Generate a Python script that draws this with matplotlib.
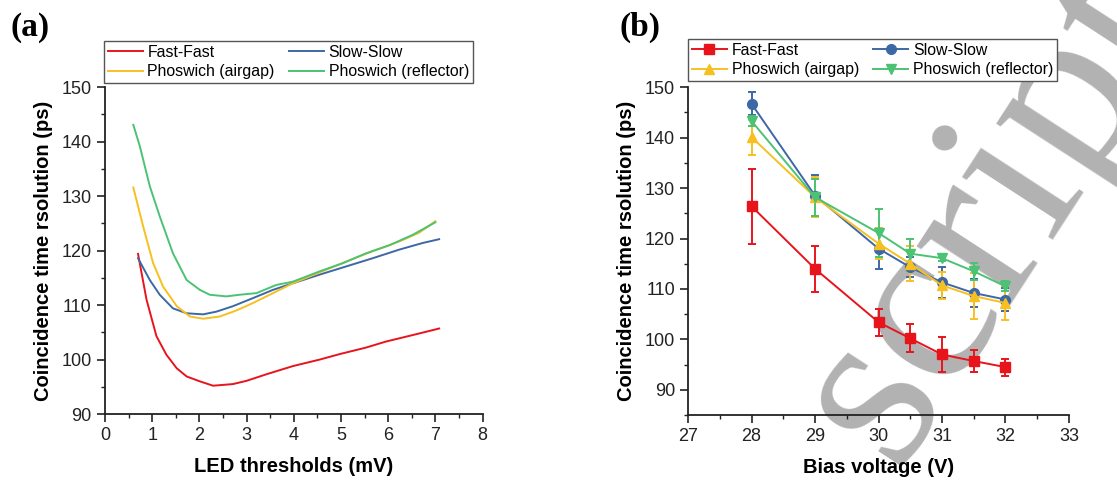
import matplotlib.pyplot as plt
from matplotlib.ticker import MultipleLocator
from matplotlib.lines import Line2D

plt.rcParams['font.family'] = ['Liberation Sans', 'DejaVu Sans']

# ---- panel (a): CTR vs LED threshold ----
ff_x = [0.70, 0.88, 1.09, 1.30, 1.52, 1.73, 2.01, 2.29, 2.71, 3.00, 3.42, 3.98, 4.55, 4.97, 5.53, 5.95, 6.52, 7.08]
ff_y = [119.4, 111.0, 104.3, 100.9, 98.4, 96.9, 96.0, 95.2, 95.5, 96.1, 97.3, 98.8, 100.0, 101.0, 102.2, 103.3, 104.5, 105.7]

ss_x = [0.70, 0.95, 1.16, 1.44, 1.73, 2.08, 2.36, 2.71, 3.14, 3.56, 3.98, 4.55, 5.11, 5.67, 6.24, 6.73, 7.08]
ss_y = [118.6, 114.6, 111.9, 109.4, 108.5, 108.3, 108.8, 109.8, 111.3, 112.8, 114.0, 115.6, 117.1, 118.6, 120.2, 121.4, 122.1]

ag_x = [0.60, 0.81, 1.02, 1.23, 1.52, 1.80, 2.08, 2.43, 2.78, 3.14, 3.56, 3.98, 4.55, 5.11, 5.67, 6.24, 6.66, 7.00]
ag_y = [131.6, 124.4, 117.7, 113.4, 109.8, 107.9, 107.5, 107.9, 109.0, 110.4, 112.2, 114.0, 116.0, 118.0, 119.9, 121.7, 123.3, 125.4]

rf_x = [0.60, 0.74, 0.95, 1.16, 1.44, 1.73, 2.01, 2.22, 2.57, 2.85, 3.21, 3.63, 3.98, 4.55, 5.04, 5.53, 6.03, 6.52, 7.00]
rf_y = [143.1, 139.1, 131.8, 126.3, 119.5, 114.6, 112.8, 111.9, 111.6, 111.9, 112.2, 113.7, 114.3, 116.2, 117.7, 119.5, 121.0, 122.9, 125.2]

# ---- panel (b): CTR vs bias voltage ----
bias = [28, 29, 30, 30.5, 31, 31.5, 32]
ff_b = [126.4, 114.0, 103.4, 100.2, 97.0, 95.7, 94.5]
ff_e = [7.4, 4.6, 2.7, 2.8, 3.5, 2.1, 1.7]
ss_b = [146.7, 128.5, 118.0, 114.3, 111.3, 109.2, 107.9]
ss_e = [2.3, 4.0, 4.0, 2.0, 3.0, 2.7, 2.3]
ag_b = [140.1, 128.2, 119.0, 115.0, 110.7, 108.6, 107.2]
ag_e = [3.5, 4.0, 3.0, 3.5, 2.7, 4.6, 3.3]
rf_b = [143.3, 128.2, 121.1, 117.0, 116.1, 113.5, 110.5]
rf_e = [1.0, 3.7, 4.8, 3.0, 0.5, 1.7, 1.0]

names = ['Fast-Fast', 'Slow-Slow', 'Phoswich (airgap)', 'Phoswich (reflector)']
colors = ['#e8141c', '#3d68a6', '#f7c021', '#4cc274']
markers = ['s', 'o', '^', 'v']

fig = plt.figure(figsize=(11.17, 4.82), dpi=100)

# watermark of the accepted manuscript, behind the plots
fig.text(0.93, 0.49, 'script', fontsize=172, family='Liberation Serif', color='#b2b2b2',
         rotation=57, rotation_mode='anchor', ha='center', va='baseline', zorder=0)

ax1 = fig.add_axes([0.094, 0.141, 0.338, 0.678])
ax2 = fig.add_axes([0.616, 0.139, 0.341, 0.680])

curves = [(ff_x, ff_y), (ss_x, ss_y), (ag_x, ag_y), (rf_x, rf_y)]
for (x, y), c, n in zip(curves, colors, names):
    ax1.plot(x, y, color=c, lw=1.4, label=n)

series = [(ff_b, ff_e), (ss_b, ss_e), (ag_b, ag_e), (rf_b, rf_e)]
for (y, e), c, m, n in zip(series, colors, markers, names):
    ax2.errorbar(bias, y, yerr=e, color=c, marker=m, ms=7, lw=1.4,
                 elinewidth=1.4, capsize=3, capthick=1.4, label=n)

for ax in (ax1, ax2):
    ax.set_zorder(1)
    ax.set_facecolor('none')
    for s in ('top', 'right'):
        ax.spines[s].set_visible(False)
    for s in ('left', 'bottom'):
        ax.spines[s].set_linewidth(1.3)
        ax.spines[s].set_color('#222222')
    ax.tick_params(which='major', direction='out', length=6, width=1.2, labelsize=13, colors='#222222')
    ax.tick_params(which='minor', direction='out', length=3, width=1.0, colors='#222222')
    ax.xaxis.set_minor_locator(MultipleLocator(0.5))
    ax.yaxis.set_minor_locator(MultipleLocator(5))
    ax.yaxis.set_major_locator(MultipleLocator(10))
    ax.set_ylabel('Coincidence time rsolution (ps)', fontsize=14.5, fontweight='bold', labelpad=6)

ax1.set_xlim(0, 8)
ax1.set_ylim(90, 150)
ax1.xaxis.set_major_locator(MultipleLocator(1))
ax1.set_xlabel('LED thresholds (mV)', fontsize=14.5, fontweight='bold', labelpad=9)

ax2.set_xlim(27, 33)
ax2.set_ylim(85, 150)
ax2.set_yticks([90, 100, 110, 120, 130, 140, 150])
ax2.xaxis.set_major_locator(MultipleLocator(1))
ax2.set_xlabel('Bias voltage (V)', fontsize=14.5, fontweight='bold', labelpad=9)

# row-major legend order: Fast-Fast, Slow-Slow / airgap, reflector
order = [0, 2, 1, 3]
h_a = [Line2D([], [], color=colors[i], lw=1.4) for i in order]
h_b = [Line2D([], [], color=colors[i], lw=1.4, marker=markers[i], ms=7) for i in order]
labs = [names[i] for i in order]

leg_kw = dict(ncol=2, fontsize=11.4, frameon=True, fancybox=False, framealpha=1, borderaxespad=0,
              handlelength=2.2, columnspacing=0.9, borderpad=0.25, labelspacing=0.28,
              handletextpad=0.3, bbox_transform=fig.transFigure, loc='upper left')
l1 = ax1.legend(h_a, labs, bbox_to_anchor=(0.093, 0.915), **leg_kw)
l2 = ax2.legend(h_b, labs, bbox_to_anchor=(0.616, 0.919), **leg_kw)
for l in (l1, l2):
    l.get_frame().set_edgecolor('#555555')
    l.get_frame().set_linewidth(1.0)

fig.text(0.009, 0.925, '(a)', fontsize=24, fontweight='bold', family='Liberation Serif')
fig.text(0.555, 0.925, '(b)', fontsize=24, fontweight='bold', family='Liberation Serif')

fig.savefig('out.png', dpi=100)
